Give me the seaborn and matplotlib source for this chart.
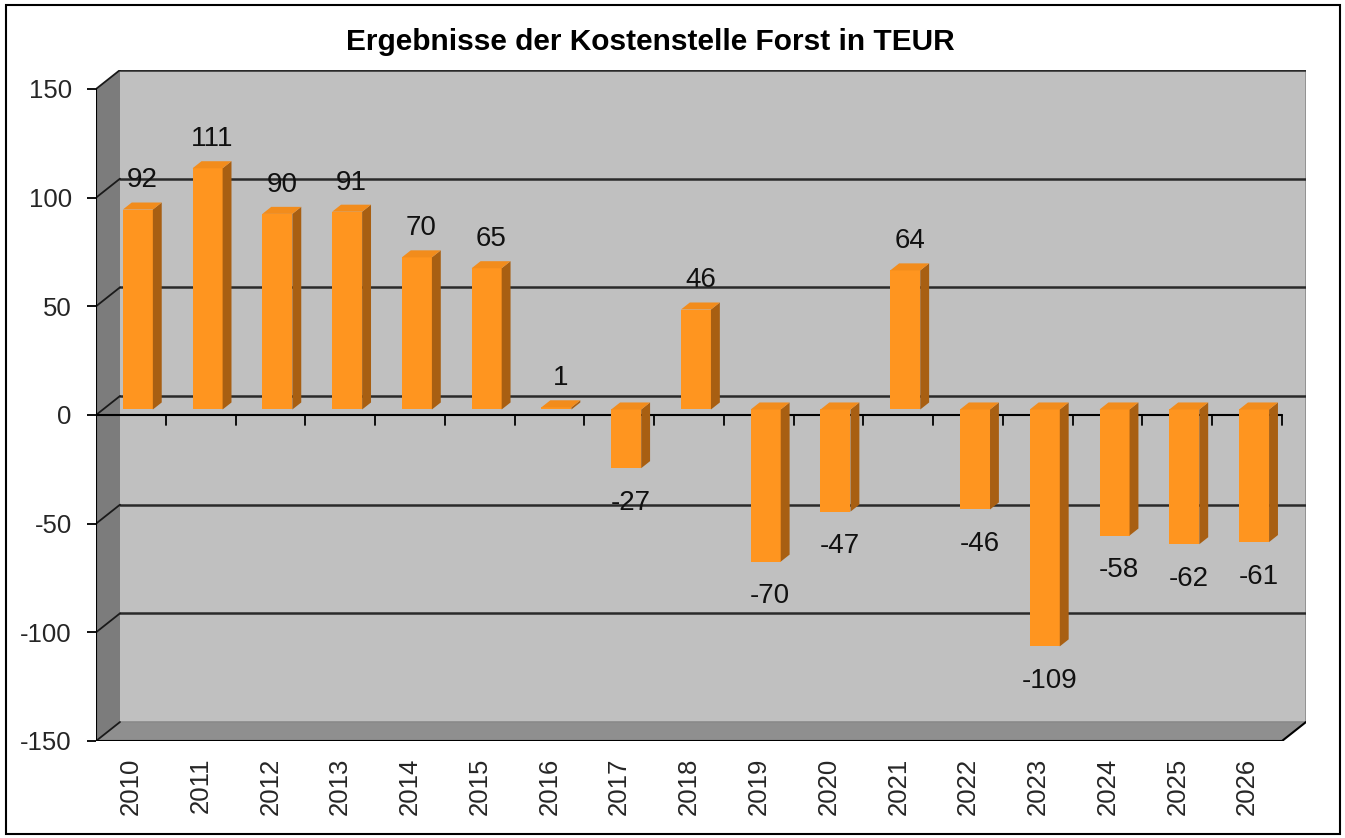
import numpy as np
import pandas as pd
import matplotlib
matplotlib.use("Agg")
import matplotlib.pyplot as plt
import matplotlib.transforms as mtransforms
from matplotlib.patches import Polygon, Rectangle
import seaborn as sns

# data
years = ["2010", "2011", "2012", "2013", "2014", "2015", "2016", "2017", "2018",
         "2019", "2020", "2021", "2022", "2023", "2024", "2025", "2026"]
results = [92, 111, 90, 91, 70, 65, 1, -27, 46, -70, -47, 64, -46, -109, -58, -62, -61]
y_ticks = [-150, -100, -50, 0, 50, 100, 150]
title = "Ergebnisse der Kostenstelle Forst in TEUR"

sns.set_theme(style="white")
plt.rcParams['font.family'] = ['Liberation Sans', 'DejaVu Sans']

# 3d look: depth of the plot box, in data units
DEPTH_X = 0.344
DEPTH_Y = 8.74
BAR_POS = 0.29    # where the bar front sits in depth
BAR_DEPTH = 0.37  # how deep the bar is

FRONT = "#FF951F"
SIDE = "#A85F12"
TOP = "#F28C1C"

df = pd.DataFrame({"year": years, "result": results})
n = len(years)
ymin, ymax = y_ticks[0], y_ticks[-1]

fig = plt.figure(figsize=(13.45, 8.38), dpi=100)
ax = fig.add_axes([96 / 1345, (838 - 741) / 838, (1306 - 96) / 1345, (741 - 70) / 838])
ax.set_facecolor("none")
for s in ax.spines.values():
    s.set_visible(False)

x0, x1 = -0.5, n - 0.5

# side wall, floor, back wall
ax.add_patch(Polygon([(x0, ymin), (x0, ymax), (x0 + DEPTH_X, ymax + DEPTH_Y), (x0 + DEPTH_X, ymin + DEPTH_Y)],
                     closed=True, facecolor="#7c7c7c", edgecolor="none", zorder=0))
ax.add_patch(Polygon([(x0, ymin), (x1, ymin), (x1 + DEPTH_X, ymin + DEPTH_Y), (x0 + DEPTH_X, ymin + DEPTH_Y)],
                     closed=True, facecolor="#8f8f8f", edgecolor="none", zorder=0))
ax.add_patch(Rectangle((x0 + DEPTH_X, ymin + DEPTH_Y), x1 - x0, ymax - ymin,
                       facecolor="#c0c0c0", edgecolor="none", zorder=0))
ax.plot([x1 + DEPTH_X, x1 + DEPTH_X], [ymin + DEPTH_Y, ymax + DEPTH_Y], color="#8a8a8a", lw=1.2, zorder=1)
ax.plot([x0 + DEPTH_X, x1 + DEPTH_X], [ymin + DEPTH_Y, ymin + DEPTH_Y], color="#8a8a8a", lw=1.2, zorder=1)

# gridlines on the back wall and side wall
for v in y_ticks:
    if v > ymin:
        ax.plot([x0 + DEPTH_X, x1 + DEPTH_X], [v + DEPTH_Y, v + DEPTH_Y], color="#2a2a2a", lw=1.8, zorder=1)
    ax.plot([x0, x0 + DEPTH_X], [v, v + DEPTH_Y], color="#1a1a1a", lw=1.3, zorder=1)

# front edges
ax.plot([x0, x0], [ymin, ymax], color="black", lw=1.5, zorder=2)
ax.plot([x0, x1, x1 + DEPTH_X], [ymin, ymin, ymin + DEPTH_Y], color="black", lw=1.5, zorder=2)

# zero line with category ticks
ax.plot([x0, x1], [0, 0], color="black", lw=1.5, zorder=2)
for k in range(n + 1):
    ax.plot([k - 0.5, k - 0.5], [0, -4.4], color="black", lw=1.3, zorder=2)

# bars
sns.barplot(data=df, x="year", y="result", width=0.43, color=FRONT, saturation=1,
            edgecolor="none", ax=ax, zorder=3)

sx, sy = BAR_POS * DEPTH_X, BAR_POS * DEPTH_Y
bx, by = BAR_DEPTH * DEPTH_X, BAR_DEPTH * DEPTH_Y
shift = mtransforms.Affine2D().translate(sx, sy) + ax.transData
for bar, val in zip(ax.patches[-n:], results):
    bar.set_transform(shift)
    left = bar.get_x() + sx
    right = left + bar.get_width()
    bot = min(bar.get_y(), bar.get_y() + bar.get_height()) + sy
    top = max(bar.get_y(), bar.get_y() + bar.get_height()) + sy
    ax.add_patch(Polygon([(right, bot), (right, top), (right + bx, top + by), (right + bx, bot + by)],
                         closed=True, facecolor=SIDE, edgecolor="none", zorder=3))
    ax.add_patch(Polygon([(left, top), (right, top), (right + bx, top + by), (left + bx, top + by)],
                         closed=True, facecolor=TOP, edgecolor="none", zorder=3))
    cx = (left + right) / 2 + bx / 2
    if val >= 0:
        ax.annotate(str(val), (cx, top), xytext=(0, 21), textcoords="offset points",
                    ha="center", va="center", fontsize=20, color="#111111", zorder=4)
    else:
        ax.annotate(str(val), (cx, bot), xytext=(0, -25), textcoords="offset points",
                    ha="center", va="center", fontsize=20, color="#111111", zorder=4)

ax.set_xlim(x0, x1 + DEPTH_X)
ax.set_ylim(ymin, ymax + DEPTH_Y)
ax.set_yticks(y_ticks)
ax.set_yticklabels([str(v) for v in y_ticks])
ax.set_xticks(range(n))
ax.set_xticklabels(years, rotation=90)
ax.set_xlabel("")
ax.set_ylabel("")
ax.tick_params(axis="y", left=True, length=6.5, width=1.3, color="black", pad=11, labelsize=18.5)
ax.tick_params(axis="x", bottom=False, length=0, pad=12, labelsize=18.5)

fig.text(650 / 1345, 1 - 42 / 838, title, ha="center", va="center",
         fontsize=21.5, fontweight="bold", color="black")

# outer frame
fig.patches.append(Rectangle((6 / 1345, 4 / 838), 1334 / 1345, 829 / 838, transform=fig.transFigure,
                             facecolor="none", edgecolor="black", lw=1.5))

fig.savefig("out.png", dpi=100, facecolor="white")
